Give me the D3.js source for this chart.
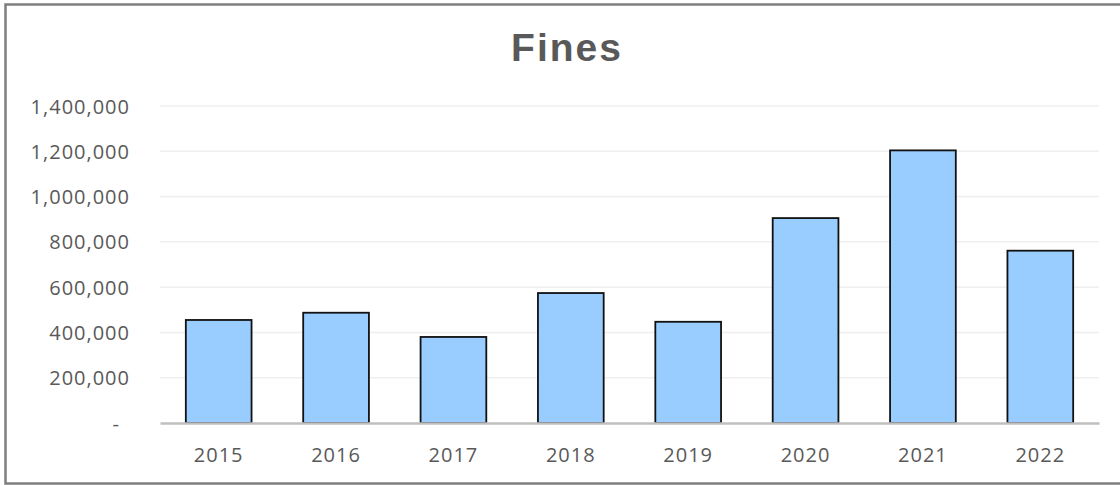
<!DOCTYPE html>
<html>
<head>
<meta charset="utf-8">
<script src="https://cdn.jsdelivr.net/npm/d3@7"></script>
<style>
  html, body { margin: 0; padding: 0; background: #fff; }
  svg { display: block; }
</style>
</head>
<body>
<div id="chart"></div>
<script>
(function () {
  "use strict";

  // --- Data ---
  const years = ["2015", "2016", "2017", "2018", "2019", "2020", "2021", "2022"];
  const fines = [455000, 487000, 380000, 574000, 447000, 905000, 1204000, 761000];
  const yTicks = [0, 200000, 400000, 600000, 800000, 1000000, 1200000, 1400000];

  const width = 1120;
  const height = 485;
  const margin = { top: 106, right: 21, bottom: 62, left: 160 };
  const textColor = "#595959";

  const svg = d3
    .select("#chart")
    .append("svg")
    .attr("width", width)
    .attr("height", height);

  // Outer frame (right edge runs off the picture)
  svg
    .append("rect")
    .attr("x", 5.5)
    .attr("y", 4.5)
    .attr("width", width + 10)
    .attr("height", 479)
    .attr("fill", "#fff")
    .attr("stroke", "#7f7f7f")
    .attr("stroke-width", 2.5);

  const x = d3
    .scaleBand()
    .domain(years)
    .range([margin.left, width - margin.right])
    .paddingInner(0.44)
    .paddingOuter(0.22);

  const y = d3
    .scaleLinear()
    .domain([0, 1400000])
    .range([height - margin.bottom, margin.top]);

  // --- Title ---
  svg
    .append("text")
    .attr("x", 567)
    .attr("y", 61)
    .attr("text-anchor", "middle")
    .attr("font-family", "'Liberation Sans', Arial, sans-serif")
    .attr("font-weight", "bold")
    .attr("font-size", "39px")
    .attr("letter-spacing", "2px")
    .attr("fill", textColor)
    .text("Fines");

  // --- Gridlines ---
  svg
    .append("g")
    .selectAll("line")
    .data(yTicks.filter((d) => d > 0))
    .join("line")
    .attr("x1", margin.left)
    .attr("x2", width - margin.right)
    .attr("y1", (d) => y(d))
    .attr("y2", (d) => y(d))
    .attr("stroke", "#efefef")
    .attr("stroke-width", 1.5);

  // --- Y axis labels ---
  const fmt = d3.format(",");
  const yAxis = d3
    .axisLeft(y)
    .tickValues(yTicks)
    .tickSize(0)
    .tickPadding(0)
    .tickFormat((d) => (d === 0 ? "-" : fmt(d)));

  const yg = svg
    .append("g")
    .attr("transform", `translate(${130},0)`)
    .call(yAxis);
  yg.select(".domain").remove();
  yg.selectAll("text")
    .attr("font-family", "'Open Sans', sans-serif")
    .attr("font-size", "20px")
    .attr("letter-spacing", "1px")
    .attr("fill", textColor)
    .attr("dy", "0.35em")
    .attr("dx", (d) => (d === 0 ? -10 : 0));

  // --- Bars ---
  svg
    .append("g")
    .selectAll("rect")
    .data(years.map((yr, i) => ({ yr, v: fines[i] })))
    .join("rect")
    .attr("x", (d) => x(d.yr))
    .attr("y", (d) => y(d.v))
    .attr("width", x.bandwidth())
    .attr("height", (d) => y(0) - y(d.v))
    .attr("fill", "#99ccff")
    .attr("stroke", "#111")
    .attr("stroke-width", 1.8);

  // --- X axis ---
  const xAxis = d3.axisBottom(x).tickSize(0).tickPadding(0);
  const xg = svg
    .append("g")
    .attr("transform", `translate(0,${y(0)})`)
    .call(xAxis);
  xg.select(".domain")
    .attr("stroke", "#bfbfbf")
    .attr("stroke-width", 2.5);
  xg.selectAll("text")
    .attr("font-family", "'Open Sans', sans-serif")
    .attr("font-size", "20px")
    .attr("letter-spacing", "1px")
    .attr("fill", textColor)
    .attr("y", 39)
    .attr("dy", 0);
})();
</script>
</body>
</html>
